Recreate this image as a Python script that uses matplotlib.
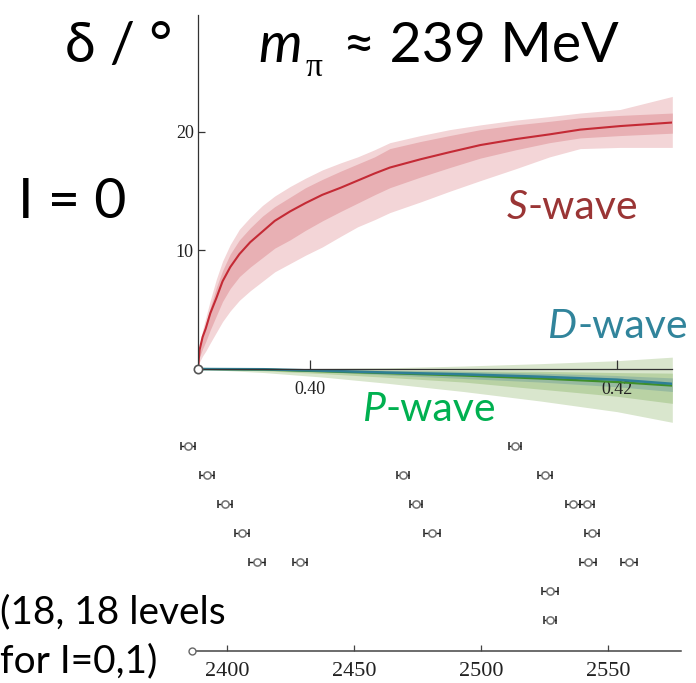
import numpy as np
import matplotlib
matplotlib.use('Agg')
import matplotlib.pyplot as plt

W, H = 696, 683

# upper panel: phase shifts vs a_t E_cm
x_s = [0.3927, 0.3928, 0.3930, 0.3932, 0.3935, 0.3939, 0.3943, 0.3948, 0.3954, 0.3961,
       0.3969, 0.3977, 0.3987, 0.3997, 0.4008, 0.4020, 0.4031, 0.4042, 0.4052, 0.4072,
       0.4091, 0.4111, 0.4134, 0.4156, 0.4176, 0.4202, 0.4236]
s_mid = [0, 1.6, 2.7, 3.4, 4.7, 6.0, 7.4, 8.6, 9.7, 10.7, 11.6, 12.5, 13.3, 14.0, 14.7,
         15.3, 15.9, 16.5, 17.0, 17.7, 18.3, 18.9, 19.4, 19.8, 20.2, 20.5, 20.8]
s_in_hi = [0, 1.8, 3.0, 3.8, 5.2, 6.9, 8.3, 9.7, 10.9, 11.9, 12.9, 13.7, 14.5, 15.3, 16.0,
           16.7, 17.3, 17.9, 18.6, 19.2, 19.7, 20.2, 20.6, 20.9, 21.2, 21.4, 21.6]
s_in_lo = [0, 1.0, 1.7, 2.3, 3.3, 4.5, 5.7, 6.8, 7.8, 8.6, 9.4, 10.2, 10.9, 11.7, 12.5,
           13.3, 14.0, 14.7, 15.3, 16.2, 17.0, 17.8, 18.5, 19.1, 19.5, 19.7, 19.9]
s_out_hi = [0, 2.0, 3.3, 4.3, 5.8, 7.6, 9.1, 10.5, 11.8, 12.8, 13.8, 14.6, 15.4, 16.1, 16.8,
            17.4, 17.9, 18.5, 19.1, 19.7, 20.2, 20.6, 21.0, 21.3, 21.6, 21.9, 23.0]
s_out_lo = [0, 0.6, 1.1, 1.5, 2.2, 3.1, 4.0, 4.9, 5.8, 6.6, 7.4, 8.2, 8.9, 9.6, 10.3,
            11.2, 12.0, 12.6, 13.2, 14.1, 15.0, 15.9, 16.9, 17.9, 18.6, 18.7, 18.7]

x_pd = [0.3927, 0.3970, 0.4010, 0.4050, 0.4100, 0.4150, 0.4200, 0.4236]
p_mid = [0, -0.05, -0.2, -0.35, -0.55, -0.8, -1.1, -1.4]
p_out_hi = [0, 0.02, 0.05, 0.1, 0.25, 0.45, 0.7, 1.0]
p_out_lo = [0, -0.3, -0.7, -1.2, -1.9, -2.7, -3.6, -4.5]
p_in_hi = [0, 0, -0.05, -0.1, -0.15, -0.2, -0.3, -0.35]
p_in_lo = [0, -0.15, -0.4, -0.7, -1.1, -1.7, -2.3, -2.9]
d_mid = [0, -0.02, -0.15, -0.3, -0.45, -0.65, -0.9, -1.25]
d_hi = [0, 0, -0.05, -0.12, -0.2, -0.35, -0.55, -0.75]
d_lo = [0, -0.05, -0.25, -0.5, -0.8, -1.1, -1.5, -1.9]

# lower panel: finite-volume levels (MeV), row, error
lev_mev = [2384.6, 2513.4,
           2392.1, 2469.3, 2525.2,
           2399.2, 2474.4, 2536.2, 2541.7,
           2405.9, 2480.7, 2543.7,
           2411.8, 2428.7, 2542.1, 2558.3,
           2527.2,
           2527.2]
lev_row = [1, 1, 2, 2, 2, 3, 3, 3, 3, 4, 4, 4, 5, 5, 5, 5, 6, 7]
lev_err = [2.8, 2.4, 2.6, 2.2, 2.6, 2.6, 2.4, 2.8, 2.6, 2.8, 3.0, 2.6, 3.1, 2.6, 3.3, 3.0, 3.0, 2.4]
threshold = 2386.2


def px(x, y):
    return x / W, 1 - y / H


fig = plt.figure(figsize=(W / 100, H / 100), dpi=100)

# ---- upper axes ----
yl_top = (369 - 15) / 11.85
yl_bot = (369 - 430) / 11.85
ax = fig.add_axes([198 / W, 1 - 430 / H, (672 - 198) / W, (430 - 15) / H])
ax.set_xlim(0.3927, 0.42358)
ax.set_ylim(yl_bot, yl_top)

ax.fill_between(x_s, s_out_lo, s_out_hi, color='#f3d5d7', lw=0)
ax.fill_between(x_s, s_in_lo, s_in_hi, color='#e8b0b4', lw=0)
ax.plot(x_s, s_mid, color='#c42a35', lw=1.5)

ax.fill_between(x_pd, p_out_lo, p_out_hi, color='#d9e6cd', lw=0)
ax.fill_between(x_pd, p_in_lo, p_in_hi, color='#b9d2a4', lw=0)
ax.fill_between(x_pd, d_lo, d_hi, color='#8fb59f', lw=0, alpha=0.8)
ax.plot(x_pd, p_mid, color='#3f8f2a', lw=1.6)
ax.plot(x_pd, d_mid, color='#2f7f95', lw=1.8)
ax.plot([0.3927], [0], 'o', ms=6, mfc='white', mec='#555555', mew=1.2, clip_on=False, zorder=5)

for side in ['top', 'right']:
    ax.spines[side].set_visible(False)
ax.spines['bottom'].set_position(('data', 0))
ax.spines['left'].set_bounds(0, yl_top)
for side in ['left', 'bottom']:
    ax.spines[side].set_color('#333333')
    ax.spines[side].set_linewidth(0.9)
    ax.spines[side].set_zorder(4)
ax.set_xticks([0.40, 0.42])
ax.set_xticklabels(['0.40', '0.42'])
ax.set_yticks([10, 20])
ax.tick_params(axis='x', direction='in', length=6.5, width=0.9, color='#333333', pad=9)
ax.tick_params(axis='y', direction='in', length=5, width=0.9, color='#333333', pad=3)
for lab in ax.get_xticklabels() + ax.get_yticklabels():
    lab.set_fontfamily('Liberation Serif')
    lab.set_fontsize(13)
    lab.set_color('#222222')
ax.patch.set_visible(False)

# ---- lower axes ----
bx_l = 2400 + (170 - 227) / 2.54
bx_r = 2400 + (690 - 227) / 2.54
ax2 = fig.add_axes([170 / W, 1 - 651 / H, (690 - 170) / W, (651 - 430) / H])
ax2.set_xlim(bx_l, bx_r)
row_axis = 1 + (651 - 446) / 29
ax2.set_ylim(row_axis, 1 + (430 - 446) / 29)
ax2.errorbar(lev_mev, lev_row, xerr=lev_err, fmt='o', ms=5.2, mfc='white', mec='#707070',
             mew=1.1, ecolor='#222222', elinewidth=1.0, capsize=3.2, capthick=1.2)
ax2.plot([threshold], [row_axis], 'o', ms=5, mfc='white', mec='#666666', mew=1.0, clip_on=False, zorder=5)
for side in ['top', 'right', 'left']:
    ax2.spines[side].set_visible(False)
ax2.spines['bottom'].set_bounds(threshold + 1.5, 2578.7)
ax2.spines['bottom'].set_color('#444444')
ax2.spines['bottom'].set_linewidth(1.1)
ax2.set_yticks([])
ax2.set_xticks([2400, 2450, 2500, 2550])
ax2.tick_params(axis='x', direction='in', length=4, width=0.9, color='#444444', pad=8)
for lab in ax2.get_xticklabels():
    lab.set_fontfamily('Liberation Serif')
    lab.set_fontsize(16)
    lab.set_color('#222222')
ax2.patch.set_visible(False)

# ---- annotations ----
sans = ['Lato', 'DejaVu Sans']
fig.text(*px(65, 62), 'δ / °', fontsize=40, family=sans, va='baseline', ha='left')
fig.text(*px(18, 218), 'I = 0', fontsize=40, family=sans, va='baseline', ha='left')
fig.text(*px(258, 62), 'm', fontsize=40, family=sans, style='italic', va='baseline', ha='left')
fig.text(*px(306, 76), 'π', fontsize=24, family=['Liberation Serif', 'DejaVu Serif'], va='baseline', ha='left')
fig.text(*px(343, 62), '≈ 239 MeV', fontsize=40, family=sans, va='baseline', ha='left')
fig.text(*px(0, 623), '(18, 18 levels', fontsize=28, family=sans, va='baseline', ha='left')
fig.text(*px(0, 672), 'for I=0,1)', fontsize=28, family=sans, va='baseline', ha='left')

fig.canvas.draw()
renderer = fig.canvas.get_renderer()


def wave_label(x, y, letter, color):
    t = fig.text(*px(x, y), letter, fontsize=29.5, family=sans, style='italic', color=color,
                 va='baseline', ha='left')
    bb = t.get_window_extent(renderer)
    fig.text(bb.x1 / W, 1 - y / H, '-wave', fontsize=29.5, family=sans, color=color,
             va='baseline', ha='left')


wave_label(507, 219, 'S', '#9a3535')
wave_label(548, 338, 'D', '#31849b')
wave_label(363, 421, 'P', '#00b050')

fig.savefig('out.png', dpi=100)
